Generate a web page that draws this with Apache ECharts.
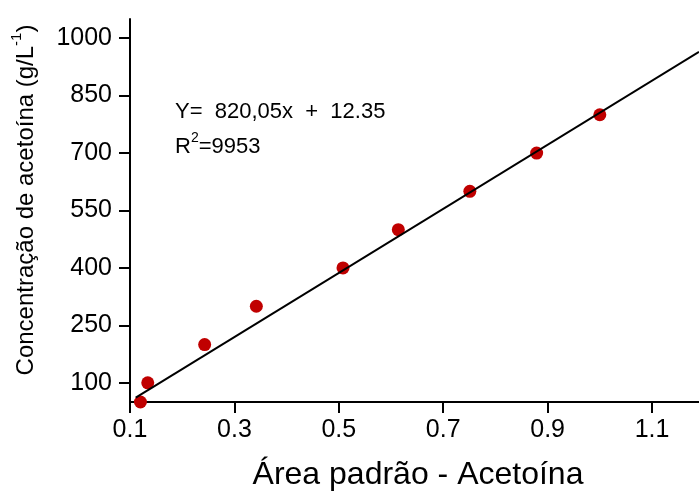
<!DOCTYPE html>
<html>
<head>
<meta charset="utf-8">
<script src="https://cdn.jsdelivr.net/npm/echarts@6/dist/echarts.min.js"></script>
<style>
html,body{margin:0;padding:0;background:#fff;}
#chart{width:699px;height:499px;}
</style>
</head>
<body>
<div id="chart"></div>
<script>
// Data
var areaValues = [0.12, 0.134, 0.243, 0.342, 0.508, 0.614, 0.751, 0.879, 1.0];
var concValues = [50, 100, 200, 300, 400, 500, 600, 700, 800];
var fitLineX = [0.111, 1.19];
var fitLineY = [61.6, 964];
var xTicks = [0.1, 0.3, 0.5, 0.7, 0.9, 1.1];
var yTicks = [100, 250, 400, 550, 700, 850, 1000];
var xTitle = 'Área padrão - Acetoína';
var yTitle = 'Concentração de acetoína (g/L';
var equationText = 'Y=  820,05x  +  12.35';
var r2Value = '=9953';

var FONT = "'Liberation Sans', Arial, sans-serif";
var chart = echarts.init(document.getElementById('chart'), null, {renderer:'canvas'});

var scatterData = areaValues.map(function(x,i){return [x, concValues[i]];});
var lineData = fitLineX.map(function(x,i){return [x, fitLineY[i]];});

var axisCommon = {
  axisLine:{show:true, onZero:false, lineStyle:{color:'#000', width:2}},
  axisTick:{show:true, inside:false, length:11, lineStyle:{color:'#000', width:2}},
  splitLine:{show:false}
};

chart.setOption({
  animation:false,
  backgroundColor:'#fff',
  grid:{left:130, right:0, top:19, bottom:97, containLabel:false},
  xAxis:Object.assign({}, axisCommon, {
    type:'value', min:0.1, max:1.19,
    axisTick:Object.assign({}, axisCommon.axisTick, {customValues:xTicks}),
    axisLabel:{customValues:xTicks, color:'#000', fontSize:25, fontFamily:FONT, margin:16,
      formatter:function(v){return v.toFixed(1);}},
  }),
  yAxis:Object.assign({}, axisCommon, {
    type:'value', min:50, max:1050,
    axisTick:Object.assign({}, axisCommon.axisTick, {customValues:yTicks}),
    axisLabel:{customValues:yTicks, color:'#000', fontSize:25, fontFamily:FONT, margin:18,
      formatter:function(v){return String(Math.round(v));}}
  }),
  series:[
    {type:'scatter', data:scatterData, symbol:'circle', symbolSize:13,
     itemStyle:{color:'#c00000', opacity:1}, z:2},
    {type:'line', data:lineData, showSymbol:false, symbol:'none',
     lineStyle:{color:'#000', width:2}, z:3}
  ],
  graphic:[
    {type:'text', left:175, top:101, style:{text:equationText, font:'22px '+FONT, fill:'#000'}},
    {type:'text', left:175, top:131, style:{
      text:'{a|R}{s|2}{a|'+r2Value+'}',
      rich:{a:{fontSize:22, fontFamily:FONT, fill:'#000', color:'#000', lineHeight:27, verticalAlign:'bottom'},
            s:{fontSize:14, fontFamily:FONT, fill:'#000', color:'#000', lineHeight:27, verticalAlign:'top'}}}},
    {type:'text', x:24, y:200, rotation:Math.PI/2, style:{
      text:'{a|'+yTitle+'}{s|-1}{a|)}', align:'center', verticalAlign:'middle',
      rich:{a:{fontSize:24, fontFamily:FONT, fill:'#000', color:'#000', lineHeight:29, verticalAlign:'bottom'},
            s:{fontSize:15, fontFamily:FONT, fill:'#000', color:'#000', lineHeight:29, verticalAlign:'top'}}}},
    {type:'text', x:418, y:475, style:{text:xTitle, font:'32px '+FONT, fill:'#000', align:'center', verticalAlign:'middle'}}
  ]
});
</script>
</body>
</html>
